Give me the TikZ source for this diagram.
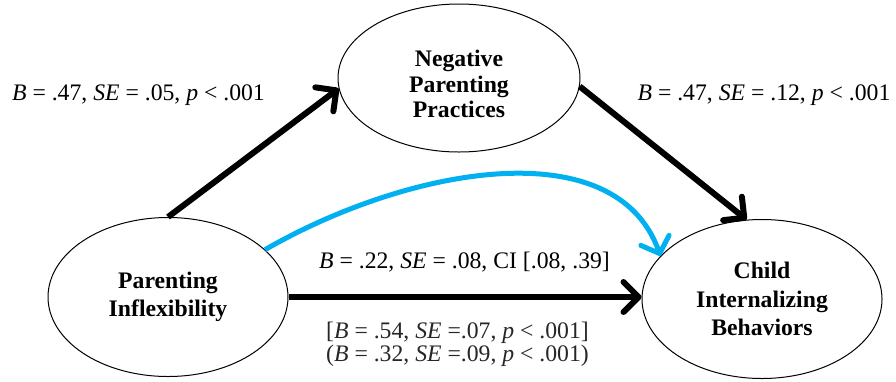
\documentclass[tikz,border=0pt]{standalone}
\usepackage{fontspec}
\setmainfont{Liberation Serif}
\usetikzlibrary{arrows.meta,shapes.geometric}
\definecolor{medblue}{HTML}{00B0F0}
\begin{document}
\begin{tikzpicture}[x=1pt,y=-1pt,
  var/.style={ellipse,draw=black,line width=1pt,inner sep=0pt,align=center,
    font=\fontsize{23.7}{28.5}\selectfont\bfseries},
  lab/.style={anchor=base,inner sep=0pt,font=\fontsize{23.7}{28}\selectfont},
  path/.style={line width=6pt,-{Straight Barb[length=15pt,width=30pt,line width=6pt,round]}},
  bpath/.style={line width=5pt,draw=medblue,-{Straight Barb[length=14pt,width=30pt,line width=5pt,round]}}]
\useasboundingbox (0,0) rectangle (896,381);
\node[var,minimum width=242pt,minimum height=148pt,font=\fontsize{23.7}{25.5}\selectfont\bfseries] (npp) at (459,78) {\rule{0pt}{29pt}Negative\\Parenting\\Practices};
\node[var,minimum width=240pt,minimum height=159pt,font=\fontsize{23.7}{27.6}\selectfont\bfseries] (pi) at (168,297) {Parenting\\Inflexibility};
\node[var,minimum width=240pt,minimum height=159pt,font=\fontsize{23.7}{28.8}\selectfont\bfseries] (cib) at (762,299) {Child\\Internalizing\\Behaviors};
\draw[path] (pi.north) -- (npp.185);
\draw[path] (npp.-4) -- (cib.101);
\draw[path] (pi.east) -- (pi.east -| cib.west);
\draw[bpath] (pi.26) .. controls (408.5,167) and (615.5,129.5) .. (cib.157);
\node[lab] (l1) at (138.5,100.7) {\textit{B} = .47, \textit{SE} = .05, \textit{p} < .001};
\node[lab] (l2) at (764,100.7) {\textit{B} = .47, \textit{SE} = .12, \textit{p} < .001};
\node[lab] (l3) at (464.5,268.3) {\textit{B} = .22, \textit{SE} = .08, CI [.08, .39]};
\node[lab,text=black!85] (l4) at (457.5,338.3) {[\textit{B} = .54, \textit{SE} =.07, \textit{p} < .001]};
\node[lab,text=black!85] (l5) at (457.5,361.5) {(\textit{B} = .32, \textit{SE} =.09, \textit{p} < .001)};
\end{tikzpicture}
\end{document}
